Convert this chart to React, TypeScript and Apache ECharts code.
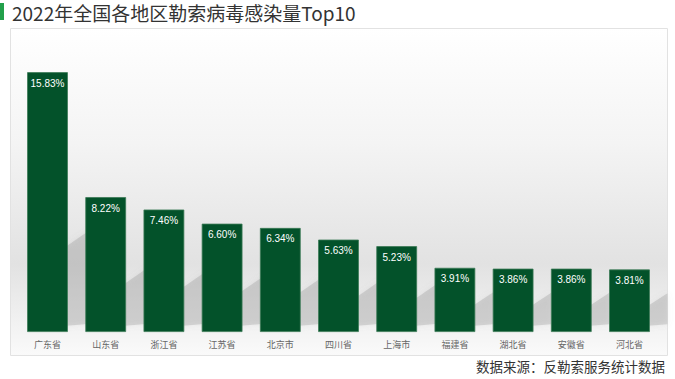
import React, { useEffect, useRef } from "react";
import * as echarts from "echarts";

const categories = ["广东省", "山东省", "浙江省", "江苏省", "北京市", "四川省", "上海市", "福建省", "湖北省", "安徽省", "河北省"];
const values = [15.83, 8.22, 7.46, 6.6, 6.34, 5.63, 5.23, 3.91, 3.86, 3.86, 3.81];
const titleText = "2022年全国各地区勒索病毒感染量Top10";
const sourceText = "数据来源：反勒索服务统计数据";

export default function App() {
  const ref = useRef<HTMLDivElement>(null);
  useEffect(() => {
    const chart = echarts.init(ref.current!, undefined, { renderer: "svg" });
    chart.setOption({
      animation: false,
      backgroundColor: "#ffffff",
      graphic: [
        { type: "rect", shape: { x: 0, y: 3, width: 4, height: 17 }, style: { fill: "#22a04b" } },
        {
          type: "text",
          x: 12,
          y: 12,
          style: { text: titleText, fill: "#333333", fontSize: 19, fontFamily: "Noto Sans CJK SC", verticalAlign: "middle" },
        },
        {
          type: "rect",
          z: -10,
          shape: { x: 10.5, y: 28.5, width: 657, height: 327 },
          style: {
            fill: new echarts.graphic.LinearGradient(0, 0, 0, 1, [
              { offset: 0, color: "#ffffff" },
              { offset: 0.35, color: "#f4f4f4" },
              { offset: 0.72, color: "#e2e2e2" },
              { offset: 1, color: "#fafafa" },
            ]),
            stroke: "#e2e2e2",
            lineWidth: 1,
          },
        },
        {
          type: "text",
          right: 10,
          y: 366,
          style: { text: sourceText, fill: "#333333", fontSize: 13.5, fontFamily: "Noto Sans CJK SC", verticalAlign: "middle" },
        },
      ],
      grid: { left: 18.4, right: 16.4, top: 53, bottom: 47, containLabel: false },
      xAxis: {
        type: "category",
        data: categories,
        axisLine: { show: false },
        axisTick: { show: false },
        axisLabel: { color: "#666666", fontSize: 9, margin: 8, fontFamily: "Noto Sans CJK SC" },
      },
      yAxis: { type: "value", min: 0, max: 17, show: false, splitLine: { show: false } },
      series: [
        {
          type: "custom",
          z: 1,
          silent: true,
          data: values.map((v, i) => [i, v]),
          renderItem: (params: any, api: any) => {
            const idx = api.value(0);
            const top = api.coord([idx, api.value(1)]);
            const base = api.coord([idx, 0]);
            const band = api.size([1, 0])[0];
            const bw = band * 0.7;
            const xr = base[0] + bw / 2;
            const yb = base[1] - 6;
            const h = base[1] - top[1];
            const len = Math.min(0.28 * h, 26);
            const pts = [
              [xr - 4, yb],
              [xr - 4, yb - 0.3 * h],
              [xr + len, yb - 0.3 * h - 0.8 * len],
              [xr + len, yb - 0.1 * len],
            ];
            return {
              type: "polygon",
              shape: { points: pts },
              style: { fill: "rgba(130,130,130,0.26)", shadowBlur: 6, shadowColor: "rgba(130,130,130,0.4)" },
            };
          },
        },
        {
          type: "bar",
          z: 2,
          data: values,
          barWidth: "70%",
          barGap: "-100%",
          itemStyle: { color: "#03522a", borderColor: "#3b7a55", borderWidth: 0.8 },
          label: {
            show: true,
            position: "insideTop",
            distance: 6,
            color: "#ffffff",
            fontSize: 10,
            fontFamily: "Liberation Sans",
            formatter: (p: any) => p.value.toFixed(2) + "%",
          },
        },
      ],
    });
    return () => chart.dispose();
  }, []);
  return <div ref={ref} style={{ width: 675, height: 379, position: "absolute", left: 0, top: 0 }} />;
}
